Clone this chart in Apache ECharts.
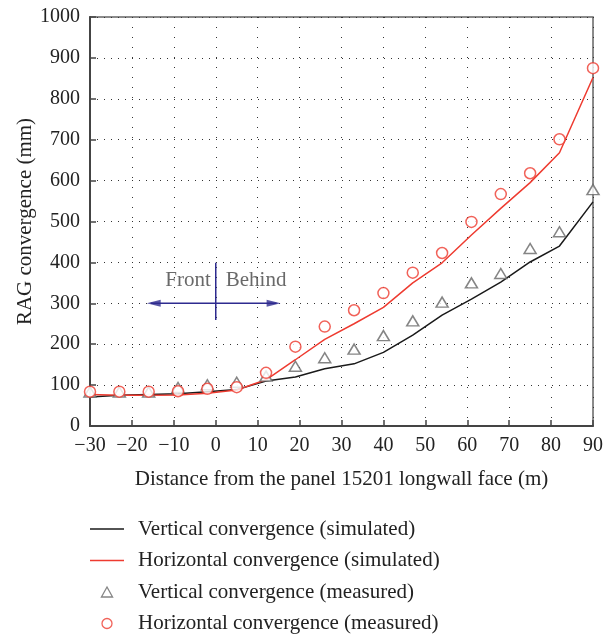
<!DOCTYPE html>
<html>
<head>
<meta charset="utf-8">
<script src="https://cdn.jsdelivr.net/npm/echarts@6/dist/echarts.min.js"></script>
<style>
  html, body { margin: 0; padding: 0; background: #fff; }
  #chart { width: 606px; height: 637px; }
</style>
</head>
<body>
<div id="chart"></div>
<script>
// ---- data ----
var xValues = [-30, -23, -16, -9, -2, 5, 12, 19, 26, 33, 40, 47, 54, 61, 68, 75, 82, 90];
var vertSim = [71, 75, 77, 79, 84, 89, 110, 120, 140, 152, 180, 222, 271, 310, 352, 401, 440, 548];
var horizSim = [77, 75, 75, 76, 80, 88, 113, 162, 212, 250, 290, 350, 399, 467, 532, 595, 668, 852];
var vertMeas = [83, 83, 83, 94, 101, 107, 122, 146, 167, 188, 221, 257, 303, 350, 373, 434, 475, 578];
var horizMeas = [84, 84, 84, 85, 91, 95, 130, 194, 243, 283, 325, 375, 423, 499, 567, 618, 701, 875];
var seriesNames = [
  'Vertical convergence (simulated)',
  'Horizontal convergence (simulated)',
  'Vertical convergence (measured)',
  'Horizontal convergence (measured)'
];
// annotation (Front / Behind marker at the longwall face)
var faceX = 0;
var faceBarY = [259, 399];
var arrowY = 300;
var arrowTips = [-16.5, 15.5];
var arrowHeads = [-14.8, 13.8];
var labelY = 355;

function pairs(xs, ys) { return xs.map(function (x, i) { return [x, ys[i]]; }); }

var serif = 'Liberation Serif, Times New Roman, serif';
var red = '#ee3b30';
var navy = '#2e2b8f';
var lineIcon = 'path://M0,0 L34,0 L34,1.5 L0,1.5 Z';
var triIcon = 'path://M5,0 L10,9 L0,9 Z';

var chart = echarts.init(document.getElementById('chart'), null, { renderer: 'canvas' });
chart.setOption({
  animation: false,
  backgroundColor: '#fff',
  grid: { left: 90, right: 10, top: 17, bottom: 211, show: true, borderColor: '#666', borderWidth: 1.5 },
  xAxis: {
    type: 'value', min: -30, max: 90, interval: 10,
    name: 'Distance from the panel 15201 longwall face (m)',
    nameLocation: 'middle', nameGap: 43,
    nameTextStyle: { fontFamily: serif, fontSize: 21, color: '#222' },
    axisLine: { show: true, onZero: false, lineStyle: { color: '#444', width: 2 } },
    axisTick: { show: true, inside: true, length: 6, lineStyle: { color: '#444', width: 1.5 } },
    axisLabel: { fontFamily: serif, fontSize: 20, color: '#222', margin: 10,
      formatter: function (v) { return String(v).replace('-', '\u2212'); } },
    splitLine: { show: true, lineStyle: { color: '#333', width: 1, type: [1, 9] } }
  },
  yAxis: {
    type: 'value', min: 0, max: 1000, interval: 100,
    name: 'RAG convergence (mm)',
    nameLocation: 'middle', nameGap: 54, nameRotate: 90, nameMoveOverlap: false,
    nameTextStyle: { fontFamily: serif, fontSize: 21, color: '#222' },
    axisLine: { show: true, onZero: false, lineStyle: { color: '#444', width: 2 } },
    axisTick: { show: true, inside: true, length: 6, lineStyle: { color: '#444', width: 1.5 } },
    axisLabel: { fontFamily: serif, fontSize: 20, color: '#222', margin: 10,
      formatter: function (v) { return String(v); } },
    splitLine: { show: true, lineStyle: { color: '#333', width: 1, type: [1, 6] } }
  },
  legend: {
    orient: 'vertical', left: 90, top: 518, padding: 0,
    itemWidth: 34, itemHeight: 10, itemGap: 9.5,
    symbolKeepAspect: true,
    data: [
      { name: seriesNames[0], icon: lineIcon, itemStyle: { color: '#1a1a1a', borderWidth: 0 } },
      { name: seriesNames[1], icon: lineIcon, itemStyle: { color: red, borderWidth: 0 } },
      { name: seriesNames[2], icon: triIcon, itemStyle: { color: '#fff', borderColor: '#666', borderWidth: 1.3 } },
      { name: seriesNames[3], icon: 'circle', itemStyle: { color: '#fff', borderColor: red, borderWidth: 1.3 } }
    ],
    textStyle: { fontFamily: serif, fontSize: 21, color: '#222', lineHeight: 22, padding: [0, 0, 0, 9] }
  },
  series: [
    { name: seriesNames[0], type: 'line', data: pairs(xValues, vertSim), symbol: 'none',
      lineStyle: { color: '#1a1a1a', width: 1.5 }, itemStyle: { color: '#1a1a1a' }, z: 2 },
    { name: seriesNames[1], type: 'line', data: pairs(xValues, horizSim), symbol: 'none',
      lineStyle: { color: red, width: 1.5 }, itemStyle: { color: red }, z: 3 },
    { name: seriesNames[2], type: 'scatter', data: pairs(xValues, vertMeas), symbol: 'triangle',
      symbolSize: [12, 10],
      itemStyle: { color: '#fff', borderColor: '#666', borderWidth: 1.5 }, z: 4 },
    { name: seriesNames[3], type: 'scatter', data: pairs(xValues, horizMeas), symbol: 'circle',
      symbolSize: 11,
      itemStyle: { color: '#fff', borderColor: red, borderWidth: 1.5 }, z: 5 },
    // annotation: vertical bar at the face
    { type: 'line', data: [[faceX, faceBarY[0]], [faceX, faceBarY[1]]], symbol: 'none',
      lineStyle: { color: navy, width: 1.5 }, silent: true, z: 6 },
    // annotation: horizontal double arrow
    { type: 'line', data: [[arrowTips[0] + 1, arrowY], [arrowTips[1] - 1, arrowY]], symbol: 'none',
      lineStyle: { color: navy, width: 1.5 }, silent: true, z: 6 },
    { type: 'scatter', symbol: 'triangle', symbolSize: [7, 14], silent: true, z: 6,
      itemStyle: { color: navy },
      data: [
        { value: [arrowHeads[0], arrowY], symbolRotate: 90 },
        { value: [arrowHeads[1], arrowY], symbolRotate: -90 }
      ] },
    // annotation labels
    { type: 'scatter', symbolSize: 0, silent: true, z: 6,
      data: [
        { value: [faceX, labelY], label: { show: true, position: 'left', distance: 5, formatter: 'Front' } },
        { value: [faceX, labelY], label: { show: true, position: 'right', distance: 10, formatter: 'Behind' } }
      ],
      label: { fontFamily: serif, fontSize: 21, color: '#444' } }
  ]
});
</script>
</body>
</html>
